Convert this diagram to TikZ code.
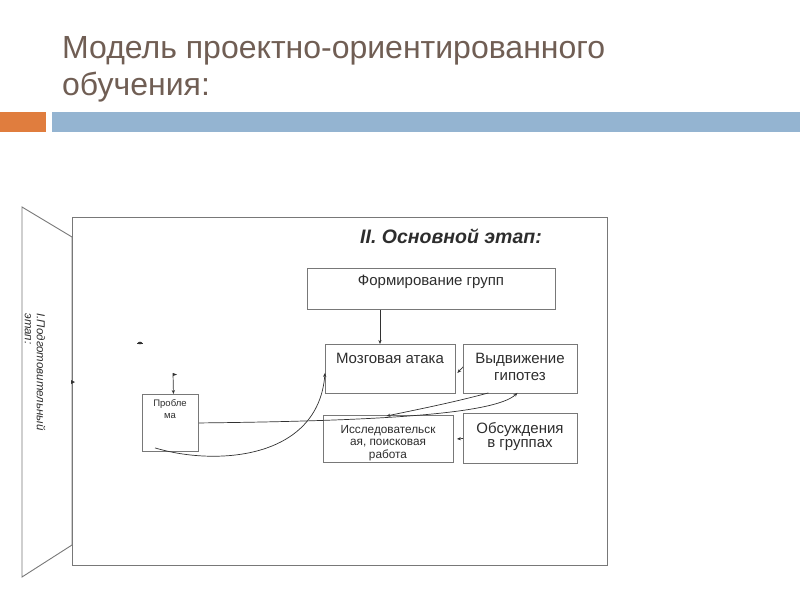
\documentclass[tikz,border=0pt]{standalone}
\usepackage{fontspec}
\setmainfont{Liberation Sans}
\usetikzlibrary{arrows.meta}
\definecolor{titlecol}{RGB}{112,94,84}
\definecolor{orangebar}{RGB}{224,125,62}
\definecolor{bluebar}{RGB}{148,180,209}
\definecolor{boxline}{RGB}{120,120,120}
\definecolor{txt}{RGB}{45,45,45}
\definecolor{conn}{RGB}{50,50,50}
\begin{document}
\begin{tikzpicture}[x=1pt,y=-1pt,
  box/.style={draw=boxline, line width=0.9pt, inner sep=0pt, anchor=north west},
  lbl/.style={inner sep=0pt, text=txt, align=center},
  arr/.style={draw=conn, line width=0.7pt, -{Stealth[length=4pt,width=3.2pt]}},
  ttl/.style={anchor=base west, inner sep=0pt, text=titlecol, font=\fontsize{32}{32}\selectfont}]
\useasboundingbox (0,0) rectangle (800,600);
% title
\node[ttl] (t1) at (62,58) {Модель проектно-ориентированного};
\node[ttl] (t2) at (62,95) {обучения:};
\fill[orangebar] (0,112) rectangle (46,132);
\fill[bluebar] (52,112) rectangle (800,132);
% trapezoid and main frame
\draw[boxline, line width=0.9pt] (22,207) -- (72,237) -- (72,545) -- (22,577) -- cycle;
\node[box, minimum width=535pt, minimum height=348pt] (main) at (72,217) {};
\node[lbl, rotate=-90, align=left, font=\itshape\fontsize{11.5}{12}\selectfont] (prep) at (35,372) {I.Подготовительный\\этап:};
\node[lbl, anchor=base, font=\bfseries\itshape\fontsize{19.5}{20}\selectfont] (stage) at (451,243) {II. Основной этап:};
% boxes
\node[box, minimum width=248pt, minimum height=41pt] (fg) at (307,268) {};
\node[box, minimum width=130pt, minimum height=49pt] (ma) at (325,344) {};
\node[box, minimum width=114pt, minimum height=49pt] (vg) at (463,344) {};
\node[box, minimum width=130pt, minimum height=47pt] (ir) at (323,415) {};
\node[box, minimum width=114pt, minimum height=50pt] (og) at (463,413) {};
\node[box, minimum width=56pt, minimum height=57pt] (pr) at (142,394) {};
% labels (base anchor = baseline of last line)
\node[lbl, anchor=base, font=\fontsize{15}{15}\selectfont] (fgt) at (431,285) {Формирование групп};
\node[lbl, anchor=base, font=\fontsize{15}{15}\selectfont] (mat) at (390,363) {Мозговая атака};
\node[lbl, anchor=base, font=\fontsize{15}{17.5}\selectfont] (vgt) at (520,380.5) {Выдвижение\\гипотез};
\node[lbl, anchor=base, font=\fontsize{11.8}{12.7}\selectfont] (irt) at (388,458.4) {Исследовательск\\ая, поисковая\\работа};
\node[lbl, anchor=base, font=\fontsize{15}{14.5}\selectfont] (ogt) at (520,447.5) {Обсуждения\\в группах};
\node[lbl, anchor=base, font=\fontsize{9.5}{12.5}\selectfont] (prt) at (170,418.5) {Пробле\\ма};
% connectors
\draw[arr] ([xshift=73pt]fg.south west) -- ([xshift=55pt]ma.north west);
\draw[arr] ([yshift=2pt]vg.west) -- ([xshift=1.5pt,yshift=-4pt]ma.east);
\draw[arr] (og.west) -- ([xshift=3pt]ir.east);
\draw[arr] (pr.east) .. controls (380,421) and (495,414) .. ([xshift=-3pt,yshift=1pt]vg.south);
\draw[arr] ([xshift=-32pt,yshift=1pt]vg.south) .. controls (455,402) and (420,409) .. ([xshift=-2pt,yshift=-1pt]ir.north);
\draw[arr] ([xshift=13pt,yshift=4pt]pr.south west) .. controls (215,466) and (318,460) .. ([yshift=-4pt]ma.west);
% small marks
\coordinate (m1) at (137,343);
\coordinate (m2) at (143,343);
\draw[conn, line width=0.7pt] (m1) -- (m2);
\fill[conn] (140,343) ellipse (2.2pt and 1.3pt);
\coordinate (f1) at (173,373);
\draw[arr] (f1) -- ([xshift=3pt]pr.north);
\fill[conn] (f1) -- ++(4,1.5) -- ++(-4,1.5) -- cycle;
\coordinate (d1) at (71,382);
\fill[conn] (d1) -- ++(0,-2) -- ++(4,2) -- ++(-4,2) -- cycle;
\end{tikzpicture}
\end{document}
